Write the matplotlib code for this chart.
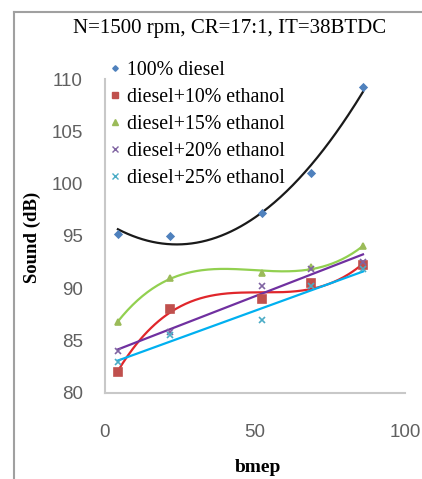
import numpy as np
import matplotlib.pyplot as plt
from matplotlib.lines import Line2D

# bmep points and measured sound level (dB)
bmep = [4.3, 21.7, 52.3, 68.5, 86.0]
diesel = [95.2, 95.0, 97.2, 101.0, 109.2]
eth10 = [82.0, 88.0, 89.0, 90.5, 92.2]
eth15 = [86.8, 91.0, 91.5, 92.0, 94.0]
eth20 = [84.0, 85.8, 90.2, 91.8, 92.5]
eth25 = [83.0, 85.5, 87.0, 90.2, 91.8]

labels = ["100% diesel", "diesel+10% ethanol", "diesel+15% ethanol",
          "diesel+20% ethanol", "diesel+25% ethanol"]
series = [diesel, eth10, eth15, eth20, eth25]
markers = ["D", "s", "^", "x", "x"]
msizes = [3.5, 6, 5, 5, 5]
mcolors = ["#4f81bd", "#c0504d", "#9bbb59", "#8064a2", "#4bacc6"]
# trendline colour and polynomial order for each series
tcolors = ["#1a1a1a", "#e0262b", "#92d050", "#7030a0", "#00b0f0"]
orders = [2, 3, 3, 1, 1]

fig = plt.figure(figsize=(4.22, 4.79), dpi=100)
ax = fig.add_axes([105 / 422, 86 / 479, 300 / 422, 314 / 479])

x = np.array(bmep)
xs = np.linspace(x.min(), x.max(), 200)
handles = []
for y, lab, m, ms, mc, tc, k in zip(series, labels, markers, msizes, mcolors, tcolors, orders):
    coef = np.polyfit(x, y, k)
    ax.plot(xs, np.polyval(coef, xs), color=tc, lw=1.6, zorder=2)
    ax.plot(x, y, ls="none", marker=m, ms=ms, color=mc, mew=1.2, zorder=3)
    handles.append(Line2D([], [], ls="none", marker=m, ms=ms * 0.8, color=mc, mew=1.0, label=lab))

ax.set_xlim(0, 100)
ax.set_ylim(80, 110)
ax.set_xticks([0, 50, 100])
ax.set_yticks(range(80, 111, 5))
for s in ["top", "right"]:
    ax.spines[s].set_visible(False)
for s in ["left", "bottom"]:
    ax.spines[s].set_color("#c8c8c8")
    ax.spines[s].set_linewidth(1.5)
ax.tick_params(length=0, labelsize=13.5, labelcolor="#606060")
ax.tick_params(axis="y", pad=16)
ax.tick_params(axis="x", pad=22)
for t in ax.get_xticklabels() + ax.get_yticklabels():
    t.set_family("Liberation Sans")

ax.legend(handles=handles, loc="upper left", bbox_to_anchor=(0.007, 1.056),
          frameon=False, borderpad=0, borderaxespad=0, handlelength=0.8,
          handletextpad=0.2, labelspacing=0.4,
          prop={"family": "Liberation Serif", "size": 14.3})

fig.text(0.543, 1 - 28 / 479, "N=1500 rpm, CR=17:1, IT=38BTDC", ha="center", va="center",
         family="Liberation Serif", fontsize=15)
fig.text(32 / 422, 1 - 237 / 479, "Sound (dB)", rotation=90, ha="center", va="center",
         family="Liberation Serif", fontweight="bold", fontsize=13.5)
fig.text(258 / 422, 1 - 467 / 479, "bmep", ha="center", va="center",
         family="Liberation Serif", fontweight="bold", fontsize=14)

# outer chart frame (top and left edges)
fig.add_artist(Line2D([14 / 422, 1], [1 - 12 / 479] * 2, color="#a0a0a0", lw=1.5))
fig.add_artist(Line2D([14 / 422] * 2, [0, 1 - 12 / 479], color="#a0a0a0", lw=1.5))

fig.savefig("out.png", dpi=100)
